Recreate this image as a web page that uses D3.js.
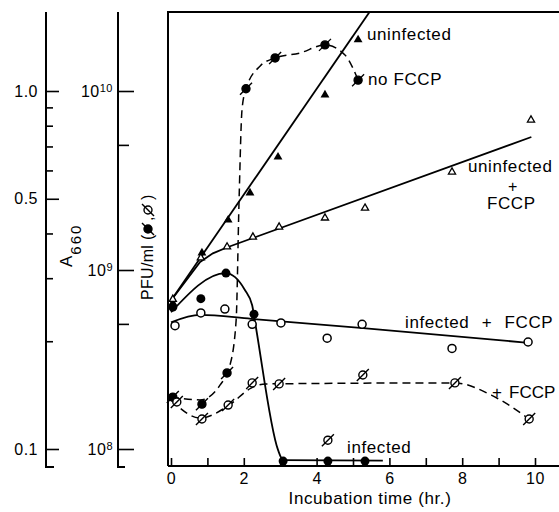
<!DOCTYPE html>
<html>
<head>
<meta charset="utf-8">
<script src="https://cdn.jsdelivr.net/npm/d3@7"></script>
<style>
  body { margin: 0; background: #fff; }
  svg { display: block; font-family: "Liberation Sans", Arial, sans-serif; }
</style>
</head>
<body>
<svg width="559" height="512"></svg>
<script>
// ---- data ----
// turbidity (A660), solid lines
const uninfT = [0.05, 0.85, 1.57, 2.17, 2.94, 4.23, 5.14];
const uninfA = [0.256, 0.353, 0.436, 0.519, 0.654, 0.975, 1.39];
const uninfLineT = [0, 5.45];
const uninfLineA = [0.26, 1.66];

const uninfFccpT = [0.05, 0.82, 1.54, 2.25, 2.97, 4.23, 5.33, 7.72, 9.89];
const uninfFccpA = [0.262, 0.342, 0.367, 0.391, 0.417, 0.442, 0.471, 0.594, 0.830];
const uninfFccpLineT = [0, 0.8, 1.15, 1.55, 9.9];
const uninfFccpLineA = [0.26, 0.333, 0.352, 0.366, 0.744];

const infT = [0.05, 0.82, 1.51, 2.28, 3.08, 4.31, 5.33];
const infA = [0.249, 0.263, 0.310, 0.238, 0.0925, 0.0925, 0.0925];
const infLineT = [0, 1.5, 1.76, 2.03, 2.23, 2.31, 2.94, 3.08, 5.82];
const infLineA = [0.241, 0.310, 0.302, 0.278, 0.252, 0.226, 0.0994, 0.0931, 0.0928];

const infFccpT = [0.11, 0.82, 1.48, 2.23, 3.02, 4.29, 5.25, 7.72, 9.81];
const infFccpA = [0.221, 0.240, 0.246, 0.223, 0.225, 0.204, 0.223, 0.191, 0.199];
const infFccpLineT = [0, 0.8, 2.2, 5.2, 9.8];
const infFccpLineA = [0.226, 0.237, 0.231, 0.218, 0.198];

// plaque titres (PFU/ml), dashed lines
const infPfuT = [0.05, 0.85, 1.54, 2.06, 2.86, 4.23, 5.14];
const infPfu = [1.95e8, 1.78e8, 2.66e8, 1.03e10, 1.53e10, 1.81e10, 1.15e10];
const infPfuLineT = [0, 0.8, 1.35, 1.62, 1.79, 1.87, 1.95, 2.06, 2.45, 2.86, 3.54, 4.23, 4.78, 5.0, 5.14];
const infPfuLine = [1.95e8, 1.88e8, 2.28e8, 2.94e8, 5.26e8, 2.46e9, 7.83e9, 1.03e10, 1.38e10, 1.53e10, 1.63e10, 1.81e10, 1.59e10, 1.34e10, 1.15e10];

const infFccpPfuT = [0.16, 0.85, 1.57, 2.23, 2.97, 5.27, 7.80, 9.84, 4.31];
const infFccpPfu = [1.83e8, 1.47e8, 1.76e8, 2.34e8, 2.31e8, 2.59e8, 2.34e8, 1.47e8, 1.12e8];
const infFccpPfuLineT = [0, 0.8, 1.6, 2.2, 2.6, 7.8, 8.8, 9.8];
const infFccpPfuLine = [1.88e8, 1.49e8, 1.76e8, 2.19e8, 2.31e8, 2.34e8, 2.0e8, 1.49e8];

// ticks
const aMajor = [0.1, 0.5, 1.0];
const aMinor = [0.2, 0.3, 0.4, 0.6, 0.7, 0.8, 0.9];
const pfuMajor = [1e8, 1e9, 1e10];
const pfuMinor = [5e8, 5e9];
const hourTicks = d3.range(0, 11);

// ---- scales ----
const svg = d3.select("svg");
const x = d3.scaleLinear().domain([0, 10]).range([171, 535]);
const yA = d3.scaleLog().domain([0.1, 1]).range([449, 91]);
const yP = d3.scaleLog().domain([1e8, 1e10]).range([449, 91]);

const boxLeft = 168, boxTop = 12, boxBottom = 466;

// clip for curves
svg.append("clipPath").attr("id", "plotClip")
  .append("rect").attr("x", boxLeft).attr("y", boxTop)
  .attr("width", 600).attr("height", boxBottom - boxTop);

// ---- frame and vertical axes ----
svg.append("path")
  .attr("d", `M${boxLeft},${boxBottom} V${boxTop} H570`)
  .attr("fill", "none").attr("stroke", "#000").attr("stroke-width", 2);
svg.append("path")
  .attr("d", `M${boxLeft},${boxBottom} H570`)
  .attr("fill", "none").attr("stroke", "#000").attr("stroke-width", 2);

svg.append("path").attr("d", "M46,12 V467 H54")
  .attr("fill", "none").attr("stroke", "#000").attr("stroke-width", 2);
svg.append("path").attr("d", "M118,12 V467 H125")
  .attr("fill", "none").attr("stroke", "#000").attr("stroke-width", 2);

function styleAxis(g) {
  g.select(".domain").remove();
  g.attr("font-family", null).attr("font-size", null);
  g.selectAll(".tick line").attr("stroke", "#000").attr("stroke-width", 1.6);
  g.selectAll(".tick text").attr("fill", "#000").style("font-size", "16px").style("letter-spacing", "0.5px");
}

// A660 axis
svg.append("g").attr("transform", "translate(46,0)")
  .call(d3.axisLeft(yA).tickValues(aMajor).tickSize(-13).tickPadding(8).tickFormat(d3.format(".1f")))
  .call(styleAxis);
svg.append("g").attr("transform", "translate(46,0)")
  .call(d3.axisLeft(yA).tickValues(aMinor).tickSize(-7).tickFormat(""))
  .call(styleAxis);

// PFU axis
const pfuAxis = svg.append("g").attr("transform", "translate(118,0)")
  .call(d3.axisLeft(yP).tickValues(pfuMajor).tickSize(-16).tickPadding(5).tickFormat(""))
  .call(styleAxis);
pfuAxis.selectAll(".tick text").each(function (d) {
  const t = d3.select(this);
  t.append("tspan").text("10");
  t.append("tspan").attr("dy", "-0.45em").style("font-size", "11px").text(Math.round(Math.log10(d)));
});
svg.append("g").attr("transform", "translate(118,0)")
  .call(d3.axisLeft(yP).tickValues(pfuMinor).tickSize(-11).tickFormat(""))
  .call(styleAxis);

// x axis
svg.append("g").attr("transform", `translate(0,${boxBottom})`)
  .call(d3.axisBottom(x).tickValues(hourTicks).tickSize(-8).tickPadding(7)
    .tickFormat(d => d % 2 ? "" : d))
  .call(styleAxis);

// ---- axis titles ----
svg.append("text").attr("x", 370).attr("y", 504).attr("text-anchor", "middle")
  .style("font-size", "17px").style("letter-spacing", "0.6px")
  .text("Incubation time (hr.)");

const aTitle = svg.append("text").attr("transform", "translate(72,267) rotate(-90)")
  .style("font-size", "17px");
aTitle.append("tspan").text("A");
aTitle.append("tspan").attr("dy", 9).attr("dx", 1).style("font-size", "15px")
  .style("letter-spacing", "2px").text("660");

const pTitle = svg.append("g").attr("transform", "translate(153,300) rotate(-90)");
pTitle.append("text").style("font-size", "16px").style("letter-spacing", "0.3px").text("PFU/ml");
pTitle.append("text").attr("x", 60).style("font-size", "16px").text("(");
pTitle.append("text").attr("x", 79).style("font-size", "16px").text(",");
pTitle.append("text").attr("x", 100).style("font-size", "16px").text(")");

// ---- marker helpers ----
function slashMark(g, cx, cy, filled) {
  g.append("circle").attr("cx", cx).attr("cy", cy).attr("r", 4)
    .attr("fill", filled ? "#000" : "#fff").attr("stroke", "#000").attr("stroke-width", 1.4);
  g.append("line").attr("x1", cx - 6).attr("y1", cy + 6).attr("x2", cx + 6).attr("y2", cy - 6)
    .attr("stroke", "#000").attr("stroke-width", 1.4);
}
slashMark(pTitle, 71, -5, true);
slashMark(pTitle, 90, -5, false);

const pair = (ts, vs) => d3.zip(ts, vs);

// ---- curves ----
const plot = svg.append("g").attr("clip-path", "url(#plotClip)");

function curve(ts, vs, y, dashed, kind) {
  const line = d3.line()
    .x(d => x(d[0]))
    .y(d => y(d[1]))
    .curve(kind || d3.curveMonotoneX);
  plot.append("path")
    .datum(pair(ts, vs))
    .attr("d", line)
    .attr("fill", "none")
    .attr("stroke", "#000")
    .attr("stroke-width", dashed ? 1.5 : 1.8)
    .attr("stroke-dasharray", dashed ? "8,5" : null);
}

curve(uninfLineT, uninfLineA, yA, false, d3.curveLinear);
curve(uninfFccpLineT, uninfFccpLineA, yA, false, d3.curveLinear);
curve(infLineT, infLineA, yA, false);
curve(infFccpLineT, infFccpLineA, yA, false);
curve(infPfuLineT, infPfuLine, yP, true);
curve(infFccpPfuLineT, infFccpPfuLine, yP, true);

// ---- markers ----
const marks = svg.append("g");

marks.selectAll(".tri-f").data(pair(uninfT, uninfA)).join("path")
  .attr("transform", d => `translate(${x(d[0])},${yA(d[1])})`)
  .attr("d", d3.symbol(d3.symbolTriangle, 34))
  .attr("fill", "#000");

marks.selectAll(".tri-o").data(pair(uninfFccpT, uninfFccpA)).join("path")
  .attr("transform", d => `translate(${x(d[0])},${yA(d[1])})`)
  .attr("d", d3.symbol(d3.symbolTriangle, 22))
  .attr("fill", "#fff").attr("stroke", "#000").attr("stroke-width", 1.3);

marks.selectAll(".dot-f").data(pair(infT, infA)).join("circle")
  .attr("cx", d => x(d[0])).attr("cy", d => yA(d[1])).attr("r", 4.5)
  .attr("fill", "#000");

marks.selectAll(".dot-o").data(pair(infFccpT, infFccpA)).join("circle")
  .attr("cx", d => x(d[0])).attr("cy", d => yA(d[1])).attr("r", 4)
  .attr("fill", "#fff").attr("stroke", "#000").attr("stroke-width", 1.5);

pair(infPfuT, infPfu).forEach(d => slashMark(marks, x(d[0]), yP(d[1]), true));
pair(infFccpPfuT, infFccpPfu).forEach(d => slashMark(marks, x(d[0]), yP(d[1]), false));

// ---- curve labels ----
const labels = svg.append("g").style("font-size", "17px").style("letter-spacing", "0.6px").attr("fill", "#000");
labels.append("text").attr("x", 367).attr("y", 40).text("uninfected");
labels.append("text").attr("x", 368).attr("y", 85).text("no FCCP");
labels.append("text").attr("x", 468).attr("y", 172).text("uninfected");
labels.append("text").attr("x", 513).attr("y", 192).attr("text-anchor", "middle").style("font-size", "16px").text("+");
labels.append("text").attr("x", 487).attr("y", 209).text("FCCP");
labels.append("text").attr("x", 405).attr("y", 328).style("word-spacing", "7px").text("infected + FCCP");
labels.append("text").attr("x", 492).attr("y", 398).text("+");
labels.append("text").attr("x", 509).attr("y", 398).style("letter-spacing", "0px").text("FCCP");
labels.append("text").attr("x", 347).attr("y", 453).text("infected");
</script>
</body>
</html>
